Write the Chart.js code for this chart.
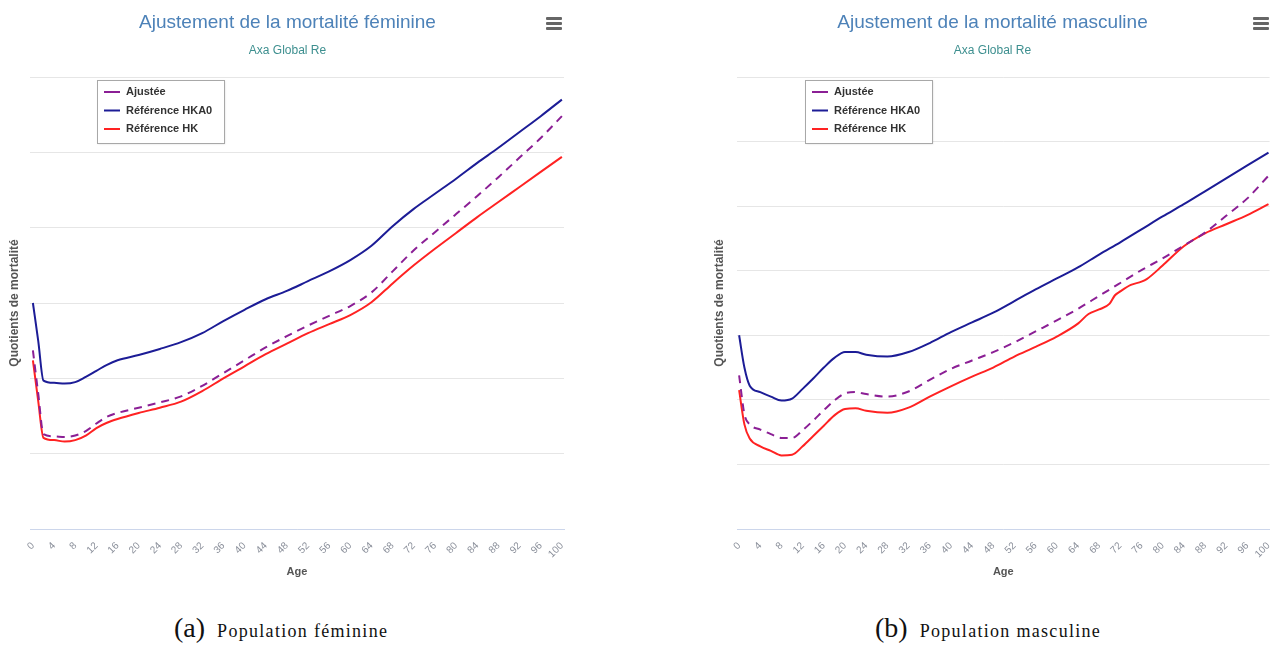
<!DOCTYPE html>
<html>
<head>
<meta charset="utf-8">
<script src="https://cdn.jsdelivr.net/npm/chart.js@4.4.1/dist/chart.umd.min.js"></script>
<style>
  body { margin: 0; background: #fff; width: 1280px; height: 646px; overflow: hidden; position: relative; }
  .panel { position: absolute; top: 0; height: 600px; }
  .title { position: absolute; top: 11px; left: 0; right: 0; text-align: center;
           font-family: "Liberation Sans Narrow", "Liberation Sans", sans-serif; font-size: 19px; color: #4d82b8; }
  .subtitle { position: absolute; top: 43px; left: 0; right: 0; text-align: center;
              font-family: "Liberation Sans Narrow", "Liberation Sans", sans-serif; font-size: 12px; color: #3d8f8f; }
  .menu { position: absolute; top: 17px; width: 16px; }
  .menu div { height: 3px; background: #666; margin-bottom: 2px; border-radius: 1px; }
  .caption { position: absolute; top: 612px; font-family: "Liberation Serif", serif; font-size: 18px;
             letter-spacing: 1.3px; color: #111; white-space: nowrap; }
  .caption span { font-size: 28px; letter-spacing: 0; margin-right: 12px; }
</style>
</head>
<body>

<div class="panel" style="left:0; width:575px;">
  <canvas id="chartF" width="575" height="600"></canvas>
  <div class="title">Ajustement de la mortalité féminine</div>
  <div class="subtitle">Axa Global Re</div>
  <div class="menu" style="left:546px;"><div></div><div></div><div></div></div>
</div>

<div class="panel" style="left:705px; width:575px;">
  <canvas id="chartM" width="575" height="600"></canvas>
  <div class="title">Ajustement de la mortalité masculine</div>
  <div class="subtitle">Axa Global Re</div>
  <div class="menu" style="left:548px;"><div></div><div></div><div></div></div>
</div>

<div class="caption" style="left:174px;"><span>(a)</span>Population féminine</div>
<div class="caption" style="left:875px;"><span>(b)</span>Population masculine</div>

<script>
// ages and values (unitless: one unit = one grid step)
var agesF = [0, 1, 2, 4, 6, 8, 10, 12, 14, 16, 20, 24, 28, 32, 36, 40, 44, 48, 52, 56, 60, 64, 68, 72, 76, 80, 84, 88, 92, 96, 100];
var ajusteeF = [2.37, 1.8, 1.26, 1.23, 1.22, 1.24, 1.30, 1.40, 1.49, 1.54, 1.61, 1.68, 1.76, 1.90, 2.07, 2.24, 2.41, 2.56, 2.70, 2.83, 2.96, 3.14, 3.42, 3.70, 3.94, 4.18, 4.42, 4.67, 4.93, 5.19, 5.48];
var hka0F = [3.00, 2.5, 1.97, 1.94, 1.93, 1.95, 2.02, 2.10, 2.18, 2.24, 2.31, 2.39, 2.48, 2.60, 2.76, 2.91, 3.05, 3.16, 3.29, 3.42, 3.57, 3.76, 4.02, 4.25, 4.45, 4.65, 4.86, 5.06, 5.27, 5.48, 5.70];
var hkF = [2.24, 1.7, 1.21, 1.18, 1.16, 1.18, 1.24, 1.34, 1.41, 1.46, 1.54, 1.61, 1.69, 1.83, 2.00, 2.16, 2.32, 2.46, 2.60, 2.72, 2.84, 3.01, 3.26, 3.50, 3.72, 3.93, 4.14, 4.34, 4.54, 4.74, 4.94];

var agesM = [0, 1, 2, 4, 6, 8, 10, 12, 14, 16, 18, 20, 22, 24, 28, 32, 36, 40, 44, 48, 52, 56, 60, 64, 68, 72, 76, 80, 84, 88, 92, 96, 100];
var ajusteeM = [2.38, 1.78, 1.62, 1.54, 1.47, 1.41, 1.41, 1.53, 1.68, 1.84, 1.99, 2.10, 2.12, 2.09, 2.05, 2.13, 2.31, 2.48, 2.61, 2.74, 2.89, 3.06, 3.23, 3.41, 3.61, 3.81, 4.01, 4.19, 4.39, 4.59, 4.85, 5.12, 5.47];
var hka0M = [3.00, 2.5, 2.22, 2.12, 2.05, 1.99, 2.02, 2.17, 2.33, 2.50, 2.65, 2.74, 2.74, 2.70, 2.67, 2.74, 2.88, 3.05, 3.20, 3.35, 3.53, 3.71, 3.88, 4.05, 4.25, 4.44, 4.64, 4.84, 5.03, 5.23, 5.43, 5.63, 5.83];
var agesHkM = [0, 1, 2, 4, 6, 8, 10, 12, 14, 16, 18, 20, 22, 24, 28, 32, 36, 40, 44, 48, 52, 56, 60, 64, 66, 68, 70, 71, 72, 74, 76, 77, 80, 84, 88, 92, 96, 100];
var hkM = [2.15, 1.62, 1.40, 1.28, 1.21, 1.14, 1.15, 1.28, 1.44, 1.60, 1.76, 1.86, 1.87, 1.83, 1.80, 1.88, 2.05, 2.21, 2.36, 2.50, 2.67, 2.82, 2.98, 3.18, 3.33, 3.40, 3.49, 3.62, 3.68, 3.78, 3.83, 3.87, 4.08, 4.38, 4.58, 4.72, 4.86, 5.03];

var ageTicks = [0, 4, 8, 12, 16, 20, 24, 28, 32, 36, 40, 44, 48, 52, 56, 60, 64, 68, 72, 76, 80, 84, 88, 92, 96, 100];
var seriesNames = ['Ajustée', 'Référence HKA0', 'Référence HK'];
var seriesColors = ['#8b1f95', '#1c1c96', '#ff2222'];

function pts(ages, vals) {
  return ages.map(function (a, i) { return { x: a, y: vals[i] }; });
}

// legend box drawn inside the plot, Highcharts style
var boxLegend = {
  id: 'boxLegend',
  afterDraw: function (chart, args, opts) {
    var ctx = chart.ctx;
    var x = opts.x, y = opts.y, w = 127, h = 63;
    ctx.save();
    ctx.fillStyle = '#fff';
    ctx.shadowColor = 'rgba(0,0,0,0.15)';
    ctx.shadowOffsetX = 1; ctx.shadowOffsetY = 1; ctx.shadowBlur = 2;
    ctx.fillRect(x, y, w, h);
    ctx.shadowColor = 'transparent';
    ctx.strokeStyle = '#a8a8a8';
    ctx.lineWidth = 1;
    ctx.strokeRect(x + 0.5, y + 0.5, w, h);
    ctx.font = 'bold 11px "Liberation Sans", sans-serif';
    ctx.textBaseline = 'middle';
    chart.data.datasets.forEach(function (ds, i) {
      var ly = y + 12 + i * 18.5;
      ctx.strokeStyle = ds.borderColor;
      ctx.lineWidth = 2;
      ctx.beginPath();
      ctx.moveTo(x + 7, ly); ctx.lineTo(x + 23, ly);
      ctx.stroke();
      ctx.fillStyle = '#333';
      ctx.fillText(ds.label, x + 29, ly);
    });
    ctx.restore();
  }
};

function makeChart(id, series, yMax, xMin, xMax, yWidth, padRight, legendX) {
  var datasets = series.map(function (s, i) {
    return {
      label: seriesNames[i],
      data: s,
      borderColor: seriesColors[i],
      borderWidth: 2,
      borderDash: i === 0 ? [8, 6] : [],
      pointRadius: 0,
      cubicInterpolationMode: 'monotone',
      fill: false
    };
  });
  return new Chart(document.getElementById(id), {
    type: 'line',
    data: { datasets: datasets },
    plugins: [boxLegend],
    options: {
      responsive: false,
      animation: false,
      layout: { padding: { top: 77, right: padRight, left: 0, bottom: 0 } },
      plugins: {
        legend: { display: false },
        tooltip: { enabled: false },
        boxLegend: { x: legendX, y: 80 }
      },
      scales: {
        x: {
          type: 'linear',
          min: xMin,
          max: xMax,
          afterBuildTicks: function (scale) {
            scale.ticks = ageTicks.map(function (v) { return { value: v }; });
          },
          afterFit: function (scale) { scale.height = 71; },
          grid: { display: false },
          border: { display: true, color: '#ccd6eb', width: 1 },
          ticks: {
            autoSkip: false,
            minRotation: 45,
            maxRotation: 45,
            padding: 3,
            color: '#8a8f9a',
            font: { family: '"Liberation Sans", sans-serif', size: 10 }
          },
          title: {
            display: true,
            text: 'Age',
            color: '#555',
            padding: { top: 0, bottom: 21 },
            font: { family: '"Liberation Sans", sans-serif', size: 11, weight: 'bold' }
          }
        },
        y: {
          min: 0,
          max: yMax,
          afterFit: function (scale) { scale.width = yWidth; },
          ticks: { display: false, stepSize: 1 },
          grid: { color: '#e6e6e6', drawTicks: false },
          border: { display: false },
          title: {
            display: true,
            text: 'Quotients de mortalité',
            color: '#555',
            padding: { top: 7, bottom: 0 },
            font: { family: '"Liberation Sans", sans-serif', size: 12, weight: 'bold' }
          }
        }
      }
    }
  });
}

makeChart('chartF', [pts(agesF, ajusteeF), pts(agesF, hka0F), pts(agesF, hkF)], 6, -0.55, 100.4, 30, 11, 97);
makeChart('chartM', [pts(agesM, ajusteeM), pts(agesM, hka0M), pts(agesHkM, hkM)], 7, -0.4, 100.2, 32, 10, 100);
</script>
</body>
</html>
